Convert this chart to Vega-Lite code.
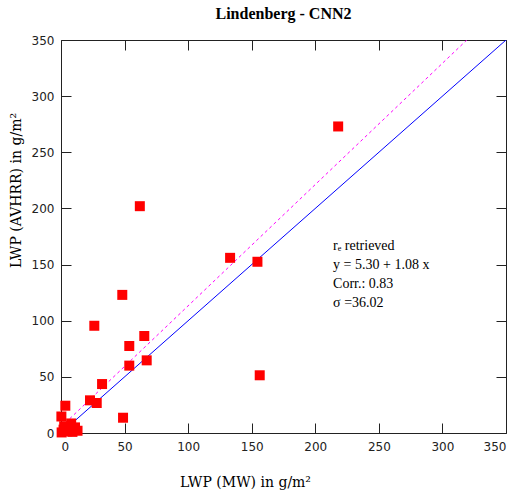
{
  "$schema": "https://vega.github.io/schema/vega-lite/v6.json",
  "width": 445,
  "height": 393,
  "autosize": {"type": "none"},
  "padding": {"left": 61, "top": 40, "right": 14, "bottom": 59},
  "background": "white",
  "title": {
    "text": "Lindenberg - CNN2",
    "font": "Liberation Serif",
    "fontSize": 16,
    "fontWeight": "bold",
    "color": "black",
    "anchor": "middle",
    "baseline": "alphabetic",
    "offset": -1
  },
  "config": {
    "view": {"stroke": null},
    "axis": {
      "grid": false,
      "domainColor": "#222",
      "tickColor": "#222",
      "tickSize": -10,
      "labelFont": "DejaVu Sans",
      "labelFontSize": 12,
      "labelColor": "#222",
      "titleFont": "DejaVu Serif",
      "titleFontSize": 14,
      "titleFontWeight": "normal",
      "titleColor": "black"
    }
  },
  "resolve": {"axis": {"x": "independent", "y": "independent"}},
  "layer": [
    {
      "data": {"values": [{"x": 0, "y": 0}, {"x": 350, "y": 350}]},
      "mark": {"type": "line", "color": "#0000ff", "strokeWidth": 1, "clip": true},
      "encoding": {
        "x": {"field": "x", "type": "quantitative", "scale": {"domain": [0, 350], "nice": false},
          "axis": {"orient": "top", "values": [0, 50, 100, 150, 200, 250, 300, 350], "labels": false, "title": null}},
        "y": {"field": "y", "type": "quantitative", "scale": {"domain": [0, 350], "nice": false},
          "axis": {"orient": "right", "values": [0, 50, 100, 150, 200, 250, 300, 350], "labels": false, "title": null}}
      }
    },
    {
      "data": {"values": [{"x": 0, "y": 5.3}, {"x": 319.2, "y": 350}]},
      "mark": {"type": "line", "color": "#ff00ff", "strokeWidth": 1, "strokeDash": [3, 3], "clip": true},
      "encoding": {
        "x": {"field": "x", "type": "quantitative", "axis": null},
        "y": {"field": "y", "type": "quantitative", "axis": null}
      }
    },
    {
      "data": {"values": [
        {"x": 218, "y": 273}, {"x": 62, "y": 202}, {"x": 133, "y": 156}, {"x": 154.5, "y": 152.5},
        {"x": 48.2, "y": 123}, {"x": 26.2, "y": 95.5}, {"x": 65.5, "y": 86.4}, {"x": 53.7, "y": 77.5},
        {"x": 53.7, "y": 60}, {"x": 67.4, "y": 64.7}, {"x": 156.3, "y": 51.4}, {"x": 32.3, "y": 43.6},
        {"x": 22.8, "y": 29.1}, {"x": 28.1, "y": 26.7}, {"x": 3.4, "y": 24.3}, {"x": 48.8, "y": 13.6},
        {"x": 0.3, "y": 14.7}, {"x": 2.5, "y": 6}, {"x": 8, "y": 8.5}, {"x": 11, "y": 5},
        {"x": 13, "y": 2}, {"x": 0.5, "y": 0.5}, {"x": 5, "y": 1.5}, {"x": 9, "y": 1}, {"x": 2, "y": 3}
      ]},
      "mark": {"type": "square", "size": 100, "color": "#ff0000", "opacity": 1, "filled": true},
      "encoding": {
        "x": {"field": "x", "type": "quantitative",
          "axis": {"orient": "bottom", "values": [0, 50, 100, 150, 200, 250, 300, 350], "labelPadding": 18,
            "title": "LWP (MW) in g/m²", "titleX": 184, "titleY": 53, "titleBaseline": "alphabetic"}},
        "y": {"field": "y", "type": "quantitative",
          "axis": {"orient": "left", "values": [0, 50, 100, 150, 200, 250, 300, 350], "labelPadding": 17,
            "title": "LWP (AVHRR) in g/m²", "titleX": -41, "titleY": 150, "titleAngle": -90, "titleBaseline": "alphabetic"}}
      }
    },
    {
      "data": {"values": [{"label": "rₑ retrieved\ny = 5.30 + 1.08 x\nCorr.: 0.83\nσ =36.02"}]},
      "mark": {"type": "text", "align": "left", "baseline": "alphabetic", "font": "Liberation Serif", "fontSize": 14, "lineHeight": 19, "lineBreak": "\n", "color": "black"},
      "encoding": {
        "x": {"datum": 214, "type": "quantitative", "axis": null},
        "y": {"datum": 163, "type": "quantitative", "axis": null},
        "text": {"field": "label"}
      }
    }
  ]
}
